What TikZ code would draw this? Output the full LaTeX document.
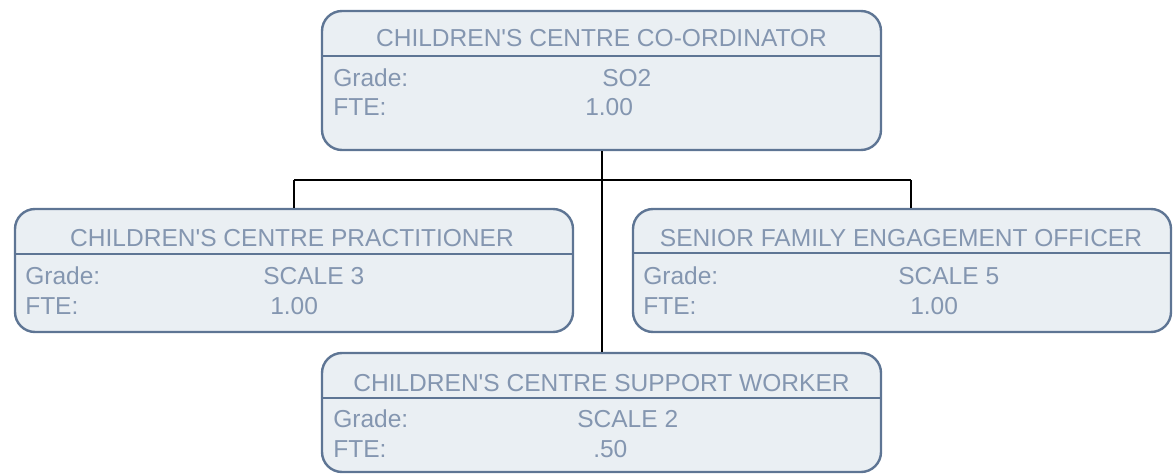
\documentclass[tikz,border=0pt]{standalone}
\usepackage{fontspec}
\setmainfont{Liberation Sans}
\definecolor{boxfill}{HTML}{EAEFF3}
\definecolor{boxline}{HTML}{5E7594}
\definecolor{boxtext}{HTML}{8496B0}
\begin{document}
\begin{tikzpicture}[x=0.75pt,y=-0.75pt,
  card/.style={draw=boxline, fill=boxfill, line width=1.8pt, rounded corners=15pt, inner sep=0pt},
  sep/.style={draw=boxline, line width=1.8pt},
  lbl/.style={text=boxtext, font=\fontsize{18.4}{20}\selectfont, inner sep=0pt, anchor=west},
  ttl/.style={text=boxtext, font=\fontsize{18.4}{20}\selectfont, inner sep=0pt},
  link/.style={draw=black, line width=1.5pt}]
\useasboundingbox (0,0) rectangle (1173,474);
% boxes
\node[card, minimum width=419.25pt, minimum height=104.25pt] (top) at (601.5,80.5) {};
\node[card, minimum width=418.5pt, minimum height=92.25pt] (left) at (294,270.5) {};
\node[card, minimum width=403.5pt, minimum height=92.25pt] (right) at (902,270.5) {};
\node[card, minimum width=419.25pt, minimum height=89.25pt] (bottom) at (601.5,412.5) {};
% separators
\draw[sep] (top.west |- 0,56) -- (top.east |- 0,56);
\draw[sep] (left.west |- 0,254) -- (left.east |- 0,254);
\draw[sep] (right.west |- 0,253) -- (right.east |- 0,253);
\draw[sep] (bottom.west |- 0,398) -- (bottom.east |- 0,398);
% connectors
\coordinate (jc) at (602,180);
\coordinate (jl) at (294,180);
\coordinate (jr) at (911,180);
\draw[link] (top.south -| jc) -- (bottom.north -| jc);
\draw[link] (jl) -- (jr);
\draw[link] (jl) -- (jl |- left.north);
\draw[link] (jr) -- (jr |- right.north);
% top texts
\node[ttl] (t1) at (601.5,38) {CHILDREN\textquotesingle S CENTRE CO-ORDINATOR};
\node[lbl] (t2) at (333,78) {Grade:};
\node[lbl] (t3) at (602,78) {SO2};
\node[lbl] (t4) at (333,107) {FTE:};
\node[lbl] (t5) at (585,107) {1.00};
% left texts
\node[ttl] (l1) at (292,238) {CHILDREN\textquotesingle S CENTRE PRACTITIONER};
\node[lbl] (l2) at (25,276) {Grade:};
\node[lbl] (l3) at (263,276) {SCALE 3};
\node[lbl] (l4) at (25,306) {FTE:};
\node[lbl] (l5) at (270,306) {1.00};
% right texts
\node[ttl] (r1) at (901,238) {SENIOR FAMILY ENGAGEMENT OFFICER};
\node[lbl] (r2) at (643,276) {Grade:};
\node[lbl] (r3) at (898,276) {SCALE 5};
\node[lbl] (r4) at (643,306) {FTE:};
\node[lbl] (r5) at (910,306) {1.00};
% bottom texts
\node[ttl] (b1) at (601.5,383) {CHILDREN\textquotesingle S CENTRE SUPPORT WORKER};
\node[lbl] (b2) at (333,419) {Grade:};
\node[lbl] (b3) at (577,419) {SCALE 2};
\node[lbl] (b4) at (333,449) {FTE:};
\node[lbl] (b5) at (593,449) {.50};
\end{tikzpicture}
\end{document}
